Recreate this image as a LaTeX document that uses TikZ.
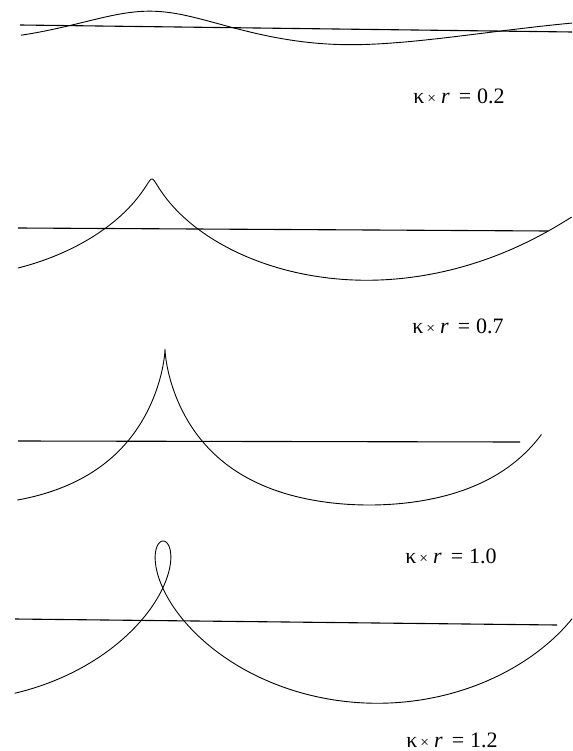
\documentclass[tikz,border=0pt]{standalone}
\usepackage{fontspec}
\setmainfont{Liberation Serif}
\usepackage{graphicx}
\newcommand{\kaplabel}[1]{κ\hspace{3pt}\scalebox{0.7}{×}\hspace{5pt}\textit{r}\hspace{9pt}=\hspace{6pt}#1}

\begin{document}
\begin{tikzpicture}[x=1pt, y=-1pt,
    wave/.style={line width=0.9pt, line join=round},
    level/.style={line width=1.1pt},
    every node/.style={font=\fontsize{22}{26}\selectfont, inner sep=0pt}]
    \useasboundingbox (0,0) rectangle (572,751);

    % still water levels
    \coordinate (lvlA1) at (20,25);   \coordinate (lvlA2) at (572,32);
    \coordinate (lvlB1) at (18,228);  \coordinate (lvlB2) at (548,231);
    \coordinate (lvlC1) at (18,441);  \coordinate (lvlC2) at (520,442);
    \coordinate (lvlD1) at (15,619);  \coordinate (lvlD2) at (557,625);
    \draw[level] (lvlA1) -- (lvlA2);
    \draw[level] (lvlB1) -- (lvlB2);
    \draw[level] (lvlC1) -- (lvlC2);
    \draw[level] (lvlD1) -- (lvlD2);

    % trochoid profiles
    \begin{scope}
    \clip (0,0) rectangle (572,751);
    \foreach \xc/\ym/\tl/\len/\rad/\amp/\skw/\str/\tmin/\tmax in
        {152/26.7/0.79/62/15.5/15.5/0/18.6/-2.3/5.3,
         152/229/0.4/68/60/50/0/6.5/-2.5/5.0,
         165/441/0/65/65/78/-14/0/-2.7/4.8,
         163/620/0.4/68/86/80.5/1.5/0/-2.71/4.8}
        \draw[wave] plot[domain=\tmin:\tmax, samples=400, variable=\t]
            ({\xc+\len*\t-\rad*sin(\t r)+(\str)*(max(\t-pi,0))^2},
             {\ym+\tl*\t-\amp*cos(\t r)+(\skw)*(cos(\t r))^2});
    \end{scope}

    % labels
    \node (labA) at (459,96)  {\kaplabel{0.2}};
    \node (labB) at (458,326) {\kaplabel{0.7}};
    \node (labC) at (451,556) {\kaplabel{1.0}};
    \node (labD) at (452,740) {\kaplabel{1.2}};
\end{tikzpicture}
\end{document}
